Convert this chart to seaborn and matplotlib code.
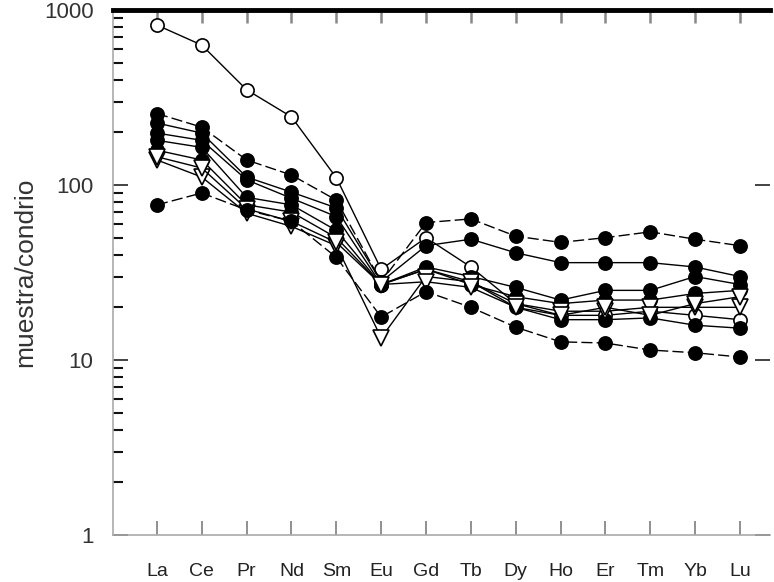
import numpy as np
import pandas as pd
import matplotlib
matplotlib.use("Agg")
import matplotlib.pyplot as plt
import seaborn as sns
from matplotlib.ticker import LogLocator, NullFormatter, FixedFormatter, FixedLocator

# ---------------- data (chondrite-normalised REE) ----------------
ELEMENTS = ["La", "Ce", "Pr", "Nd", "Sm", "Eu", "Gd", "Tb", "Dy", "Ho", "Er", "Tm", "Yb", "Lu"]

S1 = [820, 630, 350, 245, 110, 33, 50, 34, 21, 18, 18, 19, 18, 17]        # open circle
S2 = [256, 214, 139, 114, 82, 28, 61, 64, 51, 47, 50, 54, 49, 45]         # filled
S3 = [226, 198, 111, 91, 74, 28, 45, 49, 41, 36, 36, 36, 34, 30]          # filled
S4 = [198, 180, 107, 84, 66, 27, 34, 30, 26, 22, 25, 25, 30, 27]          # filled
S5 = [180, 164, 85, 77, 55, 27, 33, 28, 20, 17, 17, 17.4, 15.8, 15.2]     # filled
S6 = [158, 139, 77, 70, 50, 27, 33, 27, 23, 21, 22, 22, 24, 25]           # filled
S7 = [139, 111, 69, 58, 45, 13.4, 30, 28, 21, 19, 19, 20, 20, 20]         # open triangle
S8 = [145, 125, 73, 62, 47, 27, 28, 26, 20, 18, 20, 18, 21, 23]           # open triangle
S9 = [77, 90, 72, 62, 38.6, 17.6, 24.6, 20, 15.4, 12.7, 12.5, 11.4, 11, 10.4]  # filled

Y_TICKS = [1, 10, 100, 1000]
Y_TICK_LABELS = ["1", "10", "100", "1000"]
Y_LABEL = "muestra/condrio"

# ---------------- styling ----------------
sns.set_theme(style="white")
plt.rcParams["font.family"] = ["Liberation Sans", "DejaVu Sans"]

STYLES = {
    "S1": dict(marker="o", mfc="white", ls="-"),
    "S2": dict(marker="o", mfc="black", ls=(0, (8, 3))),
    "S3": dict(marker="o", mfc="black", ls="-"),
    "S4": dict(marker="o", mfc="black", ls="-"),
    "S5": dict(marker="o", mfc="black", ls="-"),
    "S6": dict(marker="o", mfc="black", ls="-"),
    "S7": dict(marker="v", mfc="white", ls="-"),
    "S8": dict(marker="v", mfc="white", ls="-"),
    "S9": dict(marker="o", mfc="black", ls=(0, (8, 3))),
}
SERIES = {"S1": S1, "S2": S2, "S3": S3, "S4": S4, "S5": S5,
          "S6": S6, "S7": S7, "S8": S8, "S9": S9}

fig = plt.figure(figsize=(7.74, 5.82), dpi=100)
ax = fig.add_axes([113 / 774, 1 - 535 / 582, (770 - 113) / 774, (535 - 10) / 582])
ax.set_facecolor("white")
ax.set_yscale("log")

for name, vals in SERIES.items():
    st = STYLES[name]
    df = pd.DataFrame({"element": ELEMENTS, "value": vals})
    sns.lineplot(data=df, x="element", y="value", ax=ax, sort=False,
                 color="black", linewidth=1.0, linestyle=st["ls"],
                 marker=st["marker"], markersize=9.5 if st["marker"] == "o" else 11,
                 markerfacecolor=st["mfc"], markeredgecolor="black",
                 markeredgewidth=1.2)

ax.set_ylim(1, 1000)
ax.set_xlim(-0.98, 13.67)
ax.set_xlabel("")
ax.set_ylabel("")

# y ticks
ax.yaxis.set_major_locator(FixedLocator(Y_TICKS))
ax.yaxis.set_major_formatter(FixedFormatter(Y_TICK_LABELS))
ax.yaxis.set_minor_locator(LogLocator(base=10, subs=np.arange(2, 10)))
ax.yaxis.set_minor_formatter(NullFormatter())
ax.tick_params(axis="y", which="major", direction="in", length=11, width=1.2,
               color="#222222", labelsize=16, labelcolor="#333333", pad=14,
               left=True, right=True)
ax.tick_params(axis="y", which="minor", direction="in", length=7, width=1.5,
               color="#111111", left=True, right=False)

# x ticks
ax.set_xticks(range(len(ELEMENTS)))
ax.set_xticklabels(ELEMENTS)
ax.tick_params(axis="x", which="major", direction="in", length=10, width=1.3,
               color="#888888", labelsize=14, labelcolor="#222222", pad=20,
               bottom=True, top=True)

for t in ax.xaxis.get_major_ticks():
    t.tick2line.set_color("black")
    t.tick2line.set_markersize(9)
    t.tick2line.set_markeredgewidth(1.8)
    t.tick1line.set_color("#555555")

# spines
ax.spines["top"].set_linewidth(3.5)
ax.spines["top"].set_color("black")
ax.spines["left"].set_color("#aaaaaa")
ax.spines["left"].set_linewidth(1.2)
ax.spines["bottom"].set_color("#aaaaaa")
ax.spines["bottom"].set_linewidth(1.2)
ax.spines["right"].set_visible(False)
ax.grid(False)

fig.text(25 / 774, 1 - 272 / 582, Y_LABEL, rotation=90, ha="center", va="center",
         fontsize=19, color="#333333")

fig.savefig("out.png", dpi=100)
